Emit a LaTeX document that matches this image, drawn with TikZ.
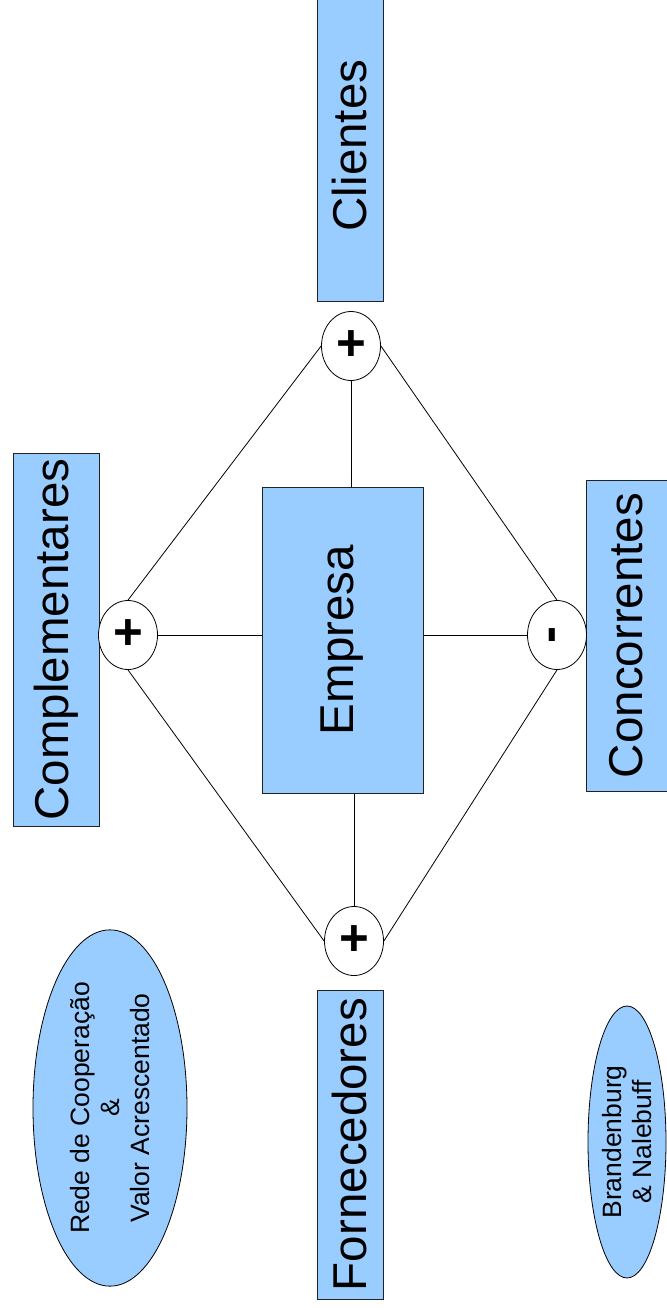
\documentclass[tikz,border=0pt]{standalone}
\usepackage{fontspec}
\usepackage{graphicx}
\setmainfont{Liberation Sans}
\usetikzlibrary{shapes.geometric}
\definecolor{boxblue}{HTML}{99CCFF}
\definecolor{edgegray}{HTML}{222222}
\begin{document}
\begin{tikzpicture}[x=1pt,y=-1pt,
  bigbox/.style={draw=edgegray, fill=boxblue, line width=1pt, rotate=90,
    inner sep=0pt, font=\fontsize{47.5}{50}\selectfont},
  bigtext/.style={rotate=90, inner sep=0pt, font=\fontsize{47.5}{50}\selectfont},
  sign/.style={draw=black, fill=white, ellipse, line width=0.8pt,
    minimum width=59pt, minimum height=69pt, inner sep=0pt,
    font=\fontsize{51}{52}\selectfont\bfseries},
  note/.style={draw=black, fill=boxblue, ellipse, rotate=90, line width=0.8pt,
    inner sep=0pt, align=center, font=\fontsize{26.5}{30}\selectfont},
  link/.style={draw=black, line width=0.8pt}]
\useasboundingbox (0,0) rectangle (667,1310);
\clip (0,0) rectangle (667,1310);

% the five actors of the value net (rotated boxes)
\node[bigbox, minimum width=311pt, minimum height=66pt] (cli) at (350,145.5) {Clientes};
\node[bigbox, minimum width=373pt, minimum height=86pt] (comp) at (56,639.5) {Complementares};
\node[bigbox, minimum width=306pt, minimum height=161pt] (emp) at (342.5,640) {Empresa};
\node[bigbox, minimum width=311pt, minimum height=88pt] (conc) at (630,635.5) {};
\node[bigtext] (concT) at (626,635.5) {Concorrentes};
\node[bigbox, minimum width=309pt, minimum height=66pt] (forn) at (350,1144.5) {Fornecedores};

% signs of each relationship
\node[sign] (top) at (351,346) {+};
\node[sign] (left) at (128,635) {+};
\node[sign] (right) at (557,635) {\rotatebox{90}{-}};
\node[sign] (bot) at (354,941) {+};

% links between the signs and the firm
\draw[link] (top.south) -- (top.south |- emp.east);
\draw[link] (left.east) -- (left.east -| emp.north);
\draw[link] (right.west) -- (right.west -| emp.south);
\draw[link] (bot.north) -- (bot.north |- emp.west);

% outer diamond
\draw[link] (left.north) -- (top.west);
\draw[link] (top.east) -- (right.north);
\draw[link] (left.south) -- (bot.west);
\draw[link] (bot.east) -- (right.south);

% notes
\node[note, minimum width=334pt, minimum height=154pt] (rede) at (110,1108)
  {Rede de Cooperação\\\&\\Valor Acrescentado};
\node[note, minimum width=272pt, minimum height=78pt] (autores) at (627,1142)
  {Brandenburg\\\& Nalebuff};
\end{tikzpicture}
\end{document}
